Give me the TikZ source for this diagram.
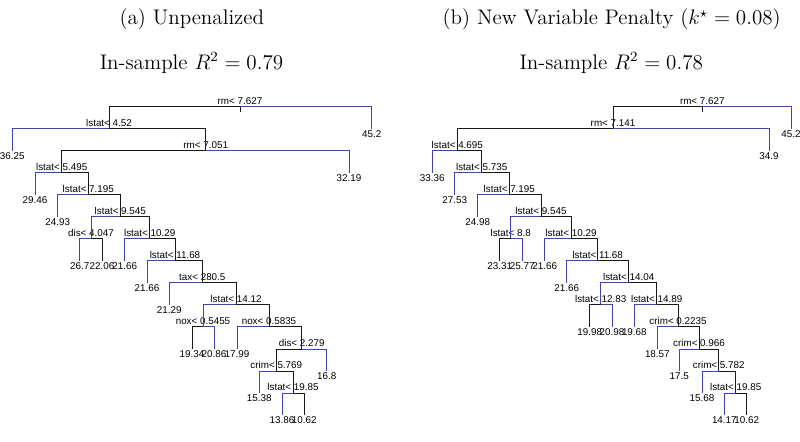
\documentclass[tikz,border=0pt]{standalone}
\usepackage{fontspec}
\usepackage{amsmath}
\usepackage{tikz}
\newfontfamily\treefont{Liberation Sans}
\definecolor{treeblue}{RGB}{62,62,222}
\definecolor{treedark}{RGB}{25,25,25}
\tikzset{
  splitlbl/.style={anchor=south, inner sep=1.1pt, outer sep=0pt,
    font=\treefont\fontsize{5.6}{6}\selectfont},
  leafnode/.style={anchor=north, inner sep=1.1pt, outer sep=0pt,
    font=\treefont\fontsize{5.6}{6}\selectfont},
  treetitle/.style={anchor=base, inner sep=0pt, font=\fontsize{12}{14}\selectfont},
  blk/.style={line width=0.5pt, color=treedark},
  blu/.style={line width=0.5pt, color=treeblue}
}

\begin{document}
\begin{tikzpicture}[x=0.02cm, y=-0.4406cm]
\useasboundingbox (0,-4.843) rectangle (800,15.223);

% titles
\node[treetitle] (ta) at (191.8,-3.71) {(a) Unpenalized};
\node[treetitle] (ra) at (191.5,-1.70) {In-sample $R^2 = 0.79$};
\node[treetitle] (tb) at (611.7,-3.71) {(b) New Variable Penalty ($k^{\star} = 0.08$)};
\node[treetitle] (rb) at (611.2,-1.70) {In-sample $R^2 = 0.78$};

% (a) unpenalized tree
\node[splitlbl] (a1) at (240,0) {rm< 7.627};
\node[splitlbl] (a2) at (109,1) {lstat< 4.52};
\node[splitlbl] (a3) at (205.7,2) {rm< 7.051};
\node[splitlbl] (a4) at (61.7,3) {lstat< 5.495};
\node[splitlbl] (a5) at (88.3,4) {lstat< 7.195};
\node[splitlbl] (a6) at (120.3,5) {lstat< 9.545};
\node[splitlbl] (a7) at (91,6) {dis< 4.047};
\node[splitlbl] (a8) at (149.7,6) {lstat< 10.29};
\node[splitlbl] (a9) at (175,7) {lstat< 11.68};
\node[splitlbl] (a10) at (202.3,8) {tax< 280.5};
\node[splitlbl] (a11) at (236,9) {lstat< 14.12};
\node[splitlbl] (a12) at (203,10) {nox< 0.5455};
\node[splitlbl] (a13) at (269,10) {nox< 0.5835};
\node[splitlbl] (a14) at (301.7,11) {dis< 2.279};
\node[splitlbl] (a15) at (276.3,12) {crim< 5.769};
\node[splitlbl] (a16) at (293,13) {lstat< 19.85};

\node[leafnode] (a1R) at (371.7,1) {45.2};
\node[leafnode] (a2L) at (12.3,2) {36.25};
\node[leafnode] (a3R) at (349,3) {32.19};
\node[leafnode] (a4L) at (35,4) {29.46};
\node[leafnode] (a5L) at (57.7,5) {24.93};
\node[leafnode] (a7L) at (79.7,7) {26.7};
\node[leafnode] (a7R) at (102,7) {22.06};
\node[leafnode] (a8L) at (124.7,7) {21.66};
\node[leafnode] (a9L) at (147,8) {21.66};
\node[leafnode] (a10L) at (169.3,9) {21.29};
\node[leafnode] (a12L) at (192,11) {19.34};
\node[leafnode] (a12R) at (214,11) {20.86};
\node[leafnode] (a13L) at (237,11) {17.99};
\node[leafnode] (a14R) at (326.7,12) {16.8};
\node[leafnode] (a15L) at (259.3,13) {15.38};
\node[leafnode] (a16L) at (282,14) {13.86};
\node[leafnode] (a16R) at (304.3,14) {10.62};

\coordinate (a1t) at (240,0.23);
\draw[blk] (a1.south) -- (a1t);
\draw[blk] (a1.south) -| (a2.south);
\draw[blu] (a1.south) -| (a1R);
\draw[blu] (a2.south) -| (a2L);
\draw[blk] (a2.south) -| (a3.south);
\draw[blk] (a3.south) -| (a4.south);
\draw[blu] (a3.south) -| (a3R);
\draw[blu] (a4.south) -| (a4L);
\draw[blk] (a4.south) -| (a5.south);
\draw[blu] (a5.south) -| (a5L);
\draw[blk] (a5.south) -| (a6.south);
\draw[blu] (a6.south) -| (a7.south);
\draw[blk] (a6.south) -| (a8.south);
\draw[blu] (a7.south) -| (a7L);
\draw[blk] (a7.south) -| (a7R);
\draw[blu] (a8.south) -| (a8L);
\draw[blk] (a8.south) -| (a9.south);
\draw[blu] (a9.south) -| (a9L);
\draw[blk] (a9.south) -| (a10.south);
\draw[blu] (a10.south) -| (a10L);
\draw[blk] (a10.south) -| (a11.south);
\draw[blu] (a11.south) -| (a12.south);
\draw[blk] (a11.south) -| (a13.south);
\draw[blk] (a12.south) -| (a12L);
\draw[blu] (a12.south) -| (a12R);
\draw[blu] (a13.south) -| (a13L);
\draw[blk] (a13.south) -| (a14.south);
\draw[blk] (a14.south) -| (a15.south);
\draw[blu] (a14.south) -| (a14R);
\draw[blu] (a15.south) -| (a15L);
\draw[blk] (a15.south) -| (a16.south);
\draw[blu] (a16.south) -| (a16L);
\draw[blk] (a16.south) -| (a16R);

% (b) new variable penalty tree
\node[splitlbl] (b1) at (702.3,0) {rm< 7.627};
\node[splitlbl] (b2) at (613,1) {rm< 7.141};
\node[splitlbl] (b3) at (457.3,2) {lstat< 4.695};
\node[splitlbl] (b4) at (481.7,3) {lstat< 5.735};
\node[splitlbl] (b5) at (509.3,4) {lstat< 7.195};
\node[splitlbl] (b6) at (541,5) {lstat< 9.545};
\node[splitlbl] (b7) at (510.7,6) {lstat< 8.8};
\node[splitlbl] (b8) at (571,6) {lstat< 10.29};
\node[splitlbl] (b9) at (597.7,7) {lstat< 11.68};
\node[splitlbl] (b10) at (628.7,8) {lstat< 14.04};
\node[splitlbl] (b11) at (600.7,9) {lstat< 12.83};
\node[splitlbl] (b12) at (656.7,9) {lstat< 14.89};
\node[splitlbl] (b13) at (678,10) {crim< 0.2235};
\node[splitlbl] (b14) at (699,11) {crim< 0.966};
\node[splitlbl] (b15) at (718.7,12) {crim< 5.782};
\node[splitlbl] (b16) at (735.7,13) {lstat< 19.85};

\node[leafnode] (b1R) at (791,1) {45.2};
\node[leafnode] (b2R) at (769,2) {34.9};
\node[leafnode] (b3L) at (432.3,3) {33.36};
\node[leafnode] (b4L) at (454.7,4) {27.53};
\node[leafnode] (b5L) at (477.7,5) {24.98};
\node[leafnode] (b7L) at (499.7,7) {23.31};
\node[leafnode] (b7R) at (522.3,7) {25.77};
\node[leafnode] (b8L) at (544.7,7) {21.66};
\node[leafnode] (b9L) at (566.7,8) {21.66};
\node[leafnode] (b11L) at (589.7,10) {19.98};
\node[leafnode] (b11R) at (612,10) {20.98};
\node[leafnode] (b12L) at (634.3,10) {19.68};
\node[leafnode] (b13L) at (657.3,11) {18.57};
\node[leafnode] (b14L) at (679.3,12) {17.5};
\node[leafnode] (b15L) at (702,13) {15.68};
\node[leafnode] (b16L) at (724.3,14) {14.17};
\node[leafnode] (b16R) at (746.7,14) {10.62};

\coordinate (b1t) at (702.3,0.23);
\draw[blk] (b1.south) -- (b1t);
\draw[blk] (b1.south) -| (b2.south);
\draw[blu] (b1.south) -| (b1R);
\draw[blk] (b2.south) -| (b3.south);
\draw[blu] (b2.south) -| (b2R);
\draw[blu] (b3.south) -| (b3L);
\draw[blk] (b3.south) -| (b4.south);
\draw[blu] (b4.south) -| (b4L);
\draw[blk] (b4.south) -| (b5.south);
\draw[blu] (b5.south) -| (b5L);
\draw[blk] (b5.south) -| (b6.south);
\draw[blu] (b6.south) -| (b7.south);
\draw[blk] (b6.south) -| (b8.south);
\draw[blk] (b7.south) -| (b7L);
\draw[blu] (b7.south) -| (b7R);
\draw[blu] (b8.south) -| (b8L);
\draw[blk] (b8.south) -| (b9.south);
\draw[blu] (b9.south) -| (b9L);
\draw[blk] (b9.south) -| (b10.south);
\draw[blu] (b10.south) -| (b11.south);
\draw[blk] (b10.south) -| (b12.south);
\draw[blk] (b11.south) -| (b11L);
\draw[blu] (b11.south) -| (b11R);
\draw[blu] (b12.south) -| (b12L);
\draw[blk] (b12.south) -| (b13.south);
\draw[blu] (b13.south) -| (b13L);
\draw[blk] (b13.south) -| (b14.south);
\draw[blu] (b14.south) -| (b14L);
\draw[blk] (b14.south) -| (b15.south);
\draw[blu] (b15.south) -| (b15L);
\draw[blk] (b15.south) -| (b16.south);
\draw[blu] (b16.south) -| (b16L);
\draw[blk] (b16.south) -| (b16R);
\end{tikzpicture}
\end{document}
